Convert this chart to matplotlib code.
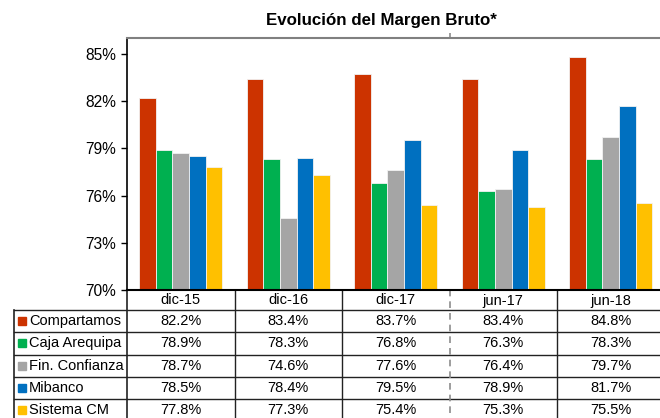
import numpy as np
import matplotlib
matplotlib.use("Agg")
import matplotlib.pyplot as plt
from matplotlib.patches import Rectangle

plt.rcParams['font.family'] = ['Liberation Sans', 'DejaVu Sans']

periodos = ["dic-15", "dic-16", "dic-17", "jun-17", "jun-18"]
series = ["Compartamos", "Caja Arequipa", "Fin. Confianza", "Mibanco", "Sistema CM"]
compartamos = [82.2, 83.4, 83.7, 83.4, 84.8]
caja_arequipa = [78.9, 78.3, 76.8, 76.3, 78.3]
fin_confianza = [78.7, 74.6, 77.6, 76.4, 79.7]
mibanco = [78.5, 78.4, 79.5, 78.9, 81.7]
sistema_cm = [77.8, 77.3, 75.4, 75.3, 75.5]
valores = [compartamos, caja_arequipa, fin_confianza, mibanco, sistema_cm]
colores = ["#CC3300", "#00B050", "#A5A5A5", "#0070C0", "#FFC000"]
yticks = [70, 73, 76, 79, 82, 85]

W, H = 660, 418
fig = plt.figure(figsize=(W / 100, H / 100), dpi=100)

# area del grafico en pixeles
x0, x1 = 127, 664.5
ytop, ybot = 38, 290
ax = fig.add_axes([x0 / W, 1 - ybot / H, (x1 - x0) / W, (ybot - ytop) / H])

x = np.arange(len(periodos))
bw = 0.155
for i, (vals, col) in enumerate(zip(valores, colores)):
    ax.bar(x + (i - 2) * bw, np.array(vals) - 70, bw, bottom=70, color=col,
           edgecolor="#f2f2f2", linewidth=0.6, zorder=2)

ax.set_xlim(-0.5, 4.5)
ax.set_ylim(70, 86)
ax.set_yticks(yticks)
ax.set_yticklabels([f"{v}%" for v in yticks], fontsize=11.2)
ax.set_xticks([])
ax.tick_params(axis="y", direction="out", length=4, width=1, pad=4)
ax.spines["top"].set_color("#808080")
ax.spines["top"].set_linewidth(1.5)
ax.spines["right"].set_visible(False)
ax.spines["left"].set_linewidth(1.2)
ax.spines["bottom"].set_linewidth(1.5)

fig.text(381 / W, 1 - 20 / H, "Evolución del Margen Bruto*", ha="center",
         va="center", fontsize=12.2, fontweight="bold")

# tabla de datos debajo
tx = fig.add_axes([0, 0, 1, 1], zorder=-1)
tx.set_xlim(0, W)
tx.set_ylim(H, 0)
tx.axis("off")
tx.patch.set_alpha(0)

colw = (x1 - x0) / len(periodos)
row_lines = [310, 332, 354.5, 377, 399, 421]
lc = "#222222"
for y in row_lines:
    tx.plot([14, W], [y, y], color=lc, lw=1)
tx.plot([14, 14], [310, H], color=lc, lw=1.2)
tx.plot([x0, x0], [290, H], color=lc, lw=1.2)
for k in range(1, len(periodos)):
    xs = x0 + k * colw
    if k == 3:
        continue
    tx.plot([xs, xs], [290, H], color=lc, lw=1)

# separador punteado entre dic-17 y jun-17
xs = x0 + 3 * colw
tx.plot([xs, xs], [33, H], color="#8c8c8c", lw=1.2, ls=(0, (4, 3)), zorder=5)

for k, p in enumerate(periodos):
    tx.text(x0 + (k + 0.5) * colw, 300.5, p, ha="center", va="center", fontsize=10.5)

for r, (nombre, vals, col) in enumerate(zip(series, valores, colores)):
    yc = (row_lines[r] + row_lines[r + 1]) / 2
    tx.add_patch(Rectangle((18, yc - 4), 8, 8, color=col))
    tx.text(29, yc, nombre, ha="left", va="center", fontsize=10.5)
    for k, v in enumerate(vals):
        tx.text(x0 + (k + 0.5) * colw, yc, f"{v:.1f}%", ha="center", va="center",
                fontsize=10.5)

fig.savefig("out.png", dpi=100)
